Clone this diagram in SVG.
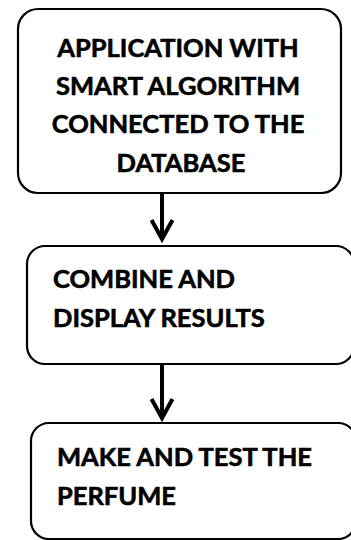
<svg xmlns="http://www.w3.org/2000/svg" width="351" height="540" viewBox="0 0 351 540">
<defs>
<style>
.box{fill:#fff;stroke:#000;stroke-width:2.2}
.t{font-family:Lato,"Open Sans",sans-serif;font-weight:bold;font-size:25.5px;fill:#000;stroke:#000;stroke-width:0.6}
.c{text-anchor:middle}
.conn{stroke:#000;stroke-width:4;fill:none}
</style>
<marker id="ah" markerUnits="userSpaceOnUse" markerWidth="30" markerHeight="30" refX="0" refY="0" orient="auto" viewBox="-25 -15 30 30" overflow="visible">
<path d="M-19,-10.5 L0,0 L-19,10.5" fill="none" stroke="#000" stroke-width="4"/>
</marker>
</defs>
<rect width="351" height="540" fill="#fff"/>
<g id="connectors">
<line class="conn" x1="162" y1="194" x2="162" y2="239" marker-end="url(#ah)"/>
<line class="conn" x1="162" y1="364" x2="162" y2="418" marker-end="url(#ah)"/>
</g>
<g id="node1">
<rect class="box" x="18" y="9" width="323" height="184" rx="20"/>
<text class="t c" x="178" y="57">APPLICATION WITH</text>
<text class="t c" x="178" y="95">SMART ALGORITHM</text>
<text class="t c" x="178" y="133">CONNECTED TO THE</text>
<text class="t c" x="181" y="172">DATABASE</text>
</g>
<g id="node2">
<rect class="box" x="27" y="246" width="327" height="118" rx="18"/>
<text class="t" x="53" y="288">COMBINE AND</text>
<text class="t" x="53" y="327">DISPLAY RESULTS</text>
</g>
<g id="node3">
<rect class="box" x="31" y="423" width="325" height="116" rx="18"/>
<text class="t" x="57" y="466">MAKE AND TEST THE</text>
<text class="t" x="57" y="505">PERFUME</text>
</g>
</svg>
